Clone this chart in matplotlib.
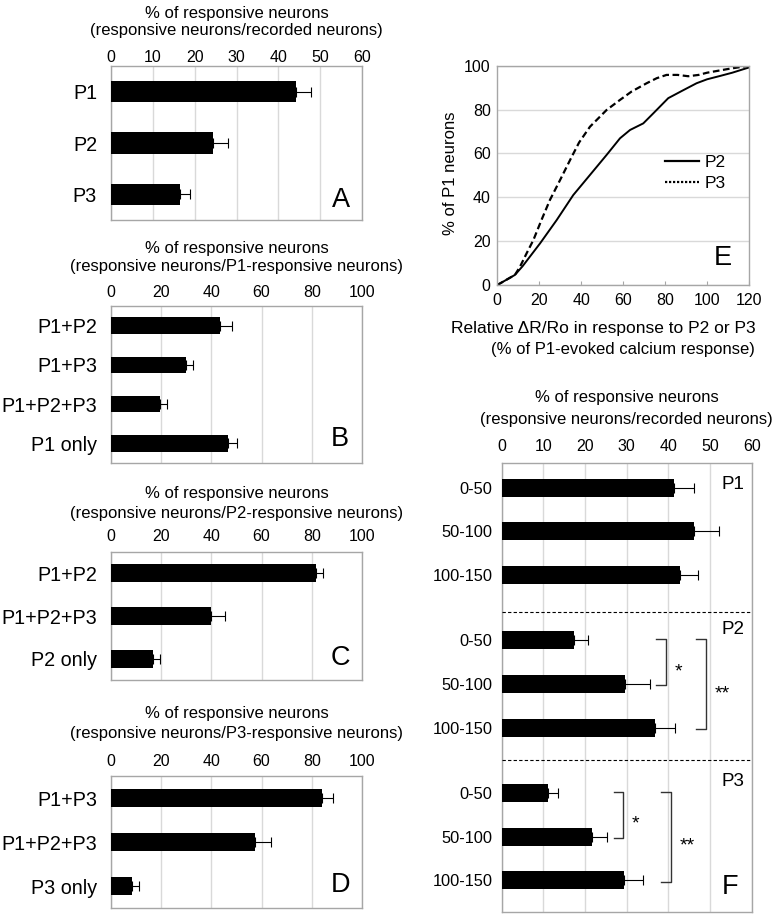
import numpy as np
import matplotlib
matplotlib.use("Agg")
import matplotlib.pyplot as plt
from matplotlib.lines import Line2D

plt.rcParams['font.family'] = ['Liberation Sans', 'DejaVu Sans']

# ---------------- data ----------------
a_cats = ['P1', 'P2', 'P3']
a_vals = [44.3, 24.5, 16.5]
a_errs = [3.5, 3.4, 2.5]

b_cats = ['P1+P2', 'P1+P3', 'P1+P2+P3', 'P1 only']
b_vals = [43.4, 29.7, 19.7, 46.6]
b_errs = [4.9, 3.1, 2.7, 3.7]

c_cats = ['P1+P2', 'P1+P2+P3', 'P2 only']
c_vals = [81.5, 39.7, 16.9]
c_errs = [3.1, 5.7, 2.6]

d_cats = ['P1+P3', 'P1+P2+P3', 'P3 only']
d_vals = [84.2, 57.4, 8.5]
d_errs = [4.4, 6.3, 2.8]

e_x_p2 = [0, 8.4, 12, 16, 20.4, 28.3, 36.2, 44.2, 52.1, 58.5, 63.3, 69.6, 74.4,
          81.5, 88, 95.0, 100, 106.1, 112, 120]
e_y_p2 = [0, 4.6, 8.5, 13.5, 19.0, 29.6, 41.0, 50.2, 59.3, 66.9, 70.7, 73.7, 78.3,
          85.2, 88.5, 92.0, 93.8, 95.3, 96.8, 99.2]
e_x_p3 = [0, 8.4, 10.8, 14, 17.2, 21, 25.1, 30, 34.7, 39, 44.2, 52.1, 58.5, 64,
          71.2, 76, 80.7, 86, 91, 96, 100, 110, 120]
e_y_p3 = [0, 4.6, 8.3, 14.5, 20.5, 29.5, 38.8, 48, 57.0, 65, 72.2, 79.8, 84.4, 88.2,
          92.0, 94.3, 95.8, 95.8, 95.2, 95.8, 96.8, 98.5, 100]

f_groups = ['P1', 'P2', 'P3']
f_bins = ['0-50', '50-100', '100-150']
f_p1_vals = [41.3, 46.1, 42.9]
f_p1_errs = [4.9, 6.0, 4.3]
f_p2_vals = [17.3, 29.7, 36.8]
f_p2_errs = [3.5, 6.0, 4.7]
f_p3_vals = [11.2, 21.7, 29.4]
f_p3_errs = [2.3, 3.5, 4.4]
# significance: (group index, bin a, bin b, label)
f_sig_groups = [1, 1, 2, 2]
f_sig_from = [0, 0, 0, 0]
f_sig_to = [1, 2, 1, 2]
f_sig_labels = ['*', '**', '*', '**']

title_top = '% of responsive neurons'
a_sub = '(responsive neurons/recorded neurons)'
b_sub = '(responsive neurons/P1-responsive neurons)'
c_sub = '(responsive neurons/P2-responsive neurons)'
d_sub = '(responsive neurons/P3-responsive neurons)'
f_sub = '(responsive neurons/recorded neurons)'

# ---------------- layout ----------------
W, H = 776, 914
fig = plt.figure(figsize=(W / 100, H / 100), dpi=100)

SPINE = '#a6a6a6'
GRID = '#d9d9d9'


def px_axes(x0, y0, x1, y1):
    return fig.add_axes([x0 / W, 1 - y1 / H, (x1 - x0) / W, (y1 - y0) / H])


def ftext(x, y, s, **kw):
    fig.text(x / W, 1 - y / H, s, **kw)


def style_box(ax):
    for sp in ax.spines.values():
        sp.set_color(SPINE)
        sp.set_linewidth(1.0)


def bar_panel(ax, cats, vals, errs, xmax, step, tick_pad, cat_size=14.2, cat_pad=10):
    y = np.arange(len(cats))
    ax.barh(y, vals, height=0.42, color='black', zorder=3)
    ax.errorbar(vals, y, xerr=[np.zeros(len(vals)), errs], fmt='none', ecolor='black',
                elinewidth=0.8, capsize=3.5, capthick=0.8, zorder=4)
    ax.set_ylim(len(cats) - 0.5, -0.5)
    ax.set_xlim(0, xmax)
    ax.set_xticks(np.arange(0, xmax + 1, step))
    ax.set_yticks(y)
    ax.set_yticklabels(cats)
    ax.xaxis.tick_top()
    ax.tick_params(axis='x', length=0, labelsize=11.5, pad=tick_pad)
    ax.tick_params(axis='y', length=0, labelsize=cat_size, pad=cat_pad)
    ax.grid(axis='x', color=GRID, linewidth=1.0, zorder=0)
    ax.set_axisbelow(True)
    style_box(ax)


def two_line_title(xc, y1, y2, l1, l2, size=12):
    ftext(xc, y1, l1, ha='center', va='baseline', fontsize=size)
    ftext(xc, y2, l2, ha='center', va='baseline', fontsize=size)


# Panel A
axA = px_axes(111, 66, 362, 220)
bar_panel(axA, a_cats, a_vals, a_errs, 60, 10, tick_pad=1.0)
axA.text(0.915, 0.13, 'A', transform=axA.transAxes, ha='center', va='center', fontsize=19.5)
two_line_title(236.5, 18.3, 35.5, title_top, a_sub)

# Panel B
axB = px_axes(111, 306, 362, 463)
bar_panel(axB, b_cats, b_vals, b_errs, 100, 20, tick_pad=4.3)
axB.text(0.91, 0.15, 'B', transform=axB.transAxes, ha='center', va='center', fontsize=19.5)
two_line_title(236.5, 252.7, 270.7, title_top, b_sub)

# Panel C
axC = px_axes(111, 552, 362, 680)
bar_panel(axC, c_cats, c_vals, c_errs, 100, 20, tick_pad=5.5)
axC.text(0.915, 0.17, 'C', transform=axC.transAxes, ha='center', va='center', fontsize=19.5)
two_line_title(236.5, 498.3, 518.3, title_top, c_sub)

# Panel D
axD = px_axes(111, 776, 362, 908)
bar_panel(axD, d_cats, d_vals, d_errs, 100, 20, tick_pad=4.8)
axD.text(0.915, 0.175, 'D', transform=axD.transAxes, ha='center', va='center', fontsize=19.5)
two_line_title(236.5, 718.3, 738.3, title_top, d_sub)

# Panel E
axE = px_axes(497.3, 65.7, 749, 285)
axE.plot(e_x_p2, e_y_p2, color='black', linewidth=1.4, solid_joinstyle='round')
axE.plot(e_x_p3, e_y_p3, color='black', linewidth=1.6, linestyle=(0, (3, 1.6)))
axE.set_xlim(0, 120)
axE.set_ylim(0, 100)
axE.set_xticks(np.arange(0, 121, 20))
axE.set_yticks(np.arange(0, 101, 20))
axE.tick_params(axis='x', direction='in', length=3, color=SPINE, labelsize=11.5, pad=6)
axE.tick_params(axis='y', length=0, labelsize=11.5, pad=4.8)
axE.grid(axis='y', color=GRID, linewidth=1.0)
axE.set_axisbelow(True)
style_box(axE)
handles = [Line2D([], [], color='black', linewidth=1.6),
           Line2D([], [], color='black', linewidth=1.6, linestyle=(0, (1, 0.8)))]
axE.legend(handles, ['P2', 'P3'], loc='center left', bbox_to_anchor=(0.665, 0.51),
           frameon=False, fontsize=12.5, handlelength=2.0, handletextpad=0.3,
           labelspacing=0.35, borderpad=0, borderaxespad=0)
axE.text(0.897, 0.123, 'E', transform=axE.transAxes, ha='center', va='center', fontsize=19.5)
ftext(450, 173.3, '% of P1 neurons', rotation=90, ha='center', va='center', fontsize=12)
ftext(603, 332.7, 'Relative \u0394R/Ro in response to P2 or P3', ha='center', va='baseline', fontsize=12.5)
ftext(622.5, 354, '(% of P1-evoked calcium response)', ha='center', va='baseline', fontsize=12)

# Panel F
axF = px_axes(501.7, 463.3, 751.7, 911.7)
GROUP_STEP = 3.5
f_vals_all = [f_p1_vals, f_p2_vals, f_p3_vals]
f_errs_all = [f_p1_errs, f_p2_errs, f_p3_errs]
pos, vals, errs, labels = [], [], [], []
for g in range(len(f_groups)):
    for i in range(len(f_bins)):
        pos.append(g * GROUP_STEP + i)
        vals.append(f_vals_all[g][i])
        errs.append(f_errs_all[g][i])
        labels.append(f_bins[i])
pos = np.array(pos)
axF.barh(pos, vals, height=0.41, color='black', zorder=3)
axF.errorbar(vals, pos, xerr=[np.zeros(len(vals)), errs], fmt='none', ecolor='black',
             elinewidth=0.8, capsize=3.5, capthick=0.8, zorder=4)
axF.set_ylim(9.72, -0.56)
axF.set_xlim(0, 60)
axF.set_xticks(np.arange(0, 61, 10))
axF.set_yticks(pos)
axF.set_yticklabels(labels)
axF.xaxis.tick_top()
axF.tick_params(axis='x', length=0, labelsize=11.5, pad=6.6)
axF.tick_params(axis='y', length=0, labelsize=11.8, pad=6.5)
axF.grid(axis='x', color=GRID, linewidth=1.0, zorder=0)
axF.set_axisbelow(True)
style_box(axF)
for g in range(1, len(f_groups)):
    ysep = g * GROUP_STEP - 0.7 + (0.04 if g == 1 else -0.05)
    axF.axhline(ysep, color='black', linewidth=0.8, linestyle=(0, (3, 2)), zorder=5)
group_label_y = [0.952, 0.63, 0.29]
for g, name in enumerate(f_groups):
    axF.text(0.926, group_label_y[g], name, transform=axF.transAxes, ha='center',
             va='center', fontsize=13.5)
# significance brackets
bracket_x = [39.4, 49.0, 29.2, 40.6]
for k in range(len(f_sig_labels)):
    g = f_sig_groups[k]
    ya = g * GROUP_STEP + f_sig_from[k] - 0.03
    yb = g * GROUP_STEP + f_sig_to[k] + 0.03
    xb = bracket_x[k]
    axF.plot([xb - 2.3, xb, xb, xb - 2.3], [ya, ya, yb, yb], color='#333333',
             linewidth=1.0, zorder=5)
    axF.text(xb + 2.0, (ya + yb) / 2 + 0.22, f_sig_labels[k], ha='left', va='center',
             fontsize=14, zorder=5)
axF.text(0.913, 0.056, 'F', transform=axF.transAxes, ha='center', va='center', fontsize=19.5)
two_line_title(626.7, 401.7, 424.3, title_top, f_sub)

fig.savefig('out.png', dpi=100)
